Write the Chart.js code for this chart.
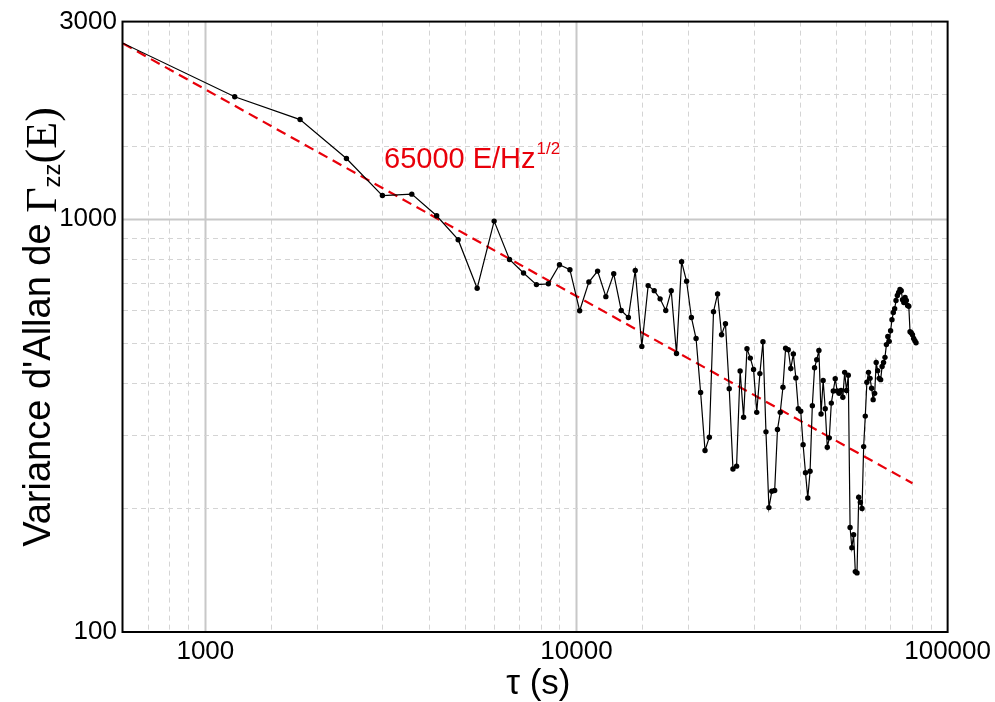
<!DOCTYPE html>
<html><head><meta charset="utf-8">
<script src="https://cdn.jsdelivr.net/npm/chart.js@4.4.1/dist/chart.umd.min.js"></script>
<style>html,body{margin:0;padding:0;background:#fff}#wrap{width:995px;height:702px;position:relative}</style>
</head><body><div id="wrap"><canvas id="c" width="995" height="702"></canvas></div>
<script>
const tau = [600,1200,1800,2400,3000,3600,4200,4800,5400,6000,
6600,7200,7800,8400,9000,9600,10200,10800,11400,12000,
12600,13200,13800,14400,15000,15600,16200,16800,17400,18000,
18600,19200,19800,20400,21000,21600,22200,22800,23400,24000,
24600,25200,25800,26400,27000,27600,28200,28800,29400,30000,
30600,31200,31800,32400,33000,33600,34200,34800,35400,36000,
36600,37200,37800,38400,39000,39600,40200,40800,41400,42000,
42600,43200,43800,44400,45000,45600,46200,46800,47400,48000,
48600,49200,49800,50400,51000,51600,52200,52800,53400,54000,
54600,55200,55800,56400,57000,57600,58200,58800,59400,60000,
60600,61200,61800,62400,63000,63600,64200,64800,65400,66000,
66600,67200,67800,68400,69000,69600,70200,70800,71400,72000,
72600,73200,73800,74400,75000,75600,76200,76800,77400,78000,
78600,79200,79800,80400,81000,81600,82200];
const allanVar = [2660,1974,1738,1399,1138,1147,1017,890,679,987,
797,739,693,696,774,753,599,703,747,648,
736,600,577,750,491,689,670,640,600,670,
472,787,706,577,513,380,275,296,596,658,
524,557,388,248,252,428,331,485,460,432,
340,422,504,305,200,219,220,309,340,391,
486,482,434,471,412,347,342,284,243,211,
245,353,436,456,480,337,406,347,280,295,
358,383,410,383,378,384,370,425,384,418,
179,160,172,140,139,212,206,199,281,333,
402,425,411,389,365,378,449,429,411,408,
439,449,462,496,519,505,536,570,593,606,
634,652,663,674,670,637,627,645,634,617,
614,533,530,524,513,507,501];
const fitTau = [600, 80400];
const fitVal = [2655, 229];
const xTickLabels = [1000, 10000, 100000];
const yTickLabels = [100, 1000, 3000];
const fitText = '65000 E/Hz';
const fitTextSup = '1/2';
const xTitle = 'τ (s)';
const yTitleMain = "Variance d'Allan de ";
const yTitleSym = 'Γ';
const yTitleSub = 'zz';
const yTitleArg = '(E)';

const SANS = '"Liberation Sans", Arial, sans-serif';
const SERIF = '"Liberation Serif", "Times New Roman", serif';
const near = (v, arr) => arr.some(a => Math.abs(v - a) / a < 1e-6);
const isPow10 = v => Math.abs(Math.log10(v) - Math.round(Math.log10(v))) < 1e-9;

const gridPlugin = {
  id: 'customGrid',
  beforeDatasetsDraw(chart) {
    const {ctx, chartArea: a, scales: {x, y}} = chart;
    ctx.save();
    const line = (x1, y1, x2, y2, major) => {
      ctx.beginPath();
      if (major) { ctx.strokeStyle = '#c8c8c8'; ctx.lineWidth = 2; ctx.setLineDash([]); }
      else { ctx.strokeStyle = '#d4d4d4'; ctx.lineWidth = 1; ctx.setLineDash([5, 4]); }
      ctx.moveTo(x1, y1); ctx.lineTo(x2, y2); ctx.stroke();
    };
    x.ticks.forEach(t => {
      const v = t.value;
      if (v <= x.min * 1.0001 || v >= x.max * 0.9999) return;
      const p = Math.round(x.getPixelForValue(v)) + 0.5;
      line(p, a.top, p, a.bottom, isPow10(v));
    });
    y.ticks.forEach(t => {
      const v = t.value;
      if (v <= y.min * 1.0001 || v >= y.max * 0.9999) return;
      const p = Math.round(y.getPixelForValue(v)) + 0.5;
      line(a.left, p, a.right, p, isPow10(v));
    });
    ctx.restore();
  },
  afterDatasetsDraw(chart) {
    const {ctx, chartArea: a} = chart;
    ctx.save();
    ctx.strokeStyle = '#000'; ctx.lineWidth = 2; ctx.setLineDash([]);
    ctx.strokeRect(a.left - 0.5, a.top, a.right - a.left + 0.5, a.bottom - a.top);
    // fit annotation
    ctx.fillStyle = '#e8000a';
    ctx.textBaseline = 'alphabetic';
    ctx.font = '29px ' + SANS;
    const tx = 384, ty = 168;
    ctx.fillText(fitText, tx, ty);
    const w = ctx.measureText(fitText).width;
    ctx.font = '17px ' + SANS;
    ctx.fillText(fitTextSup, tx + w + 1, ty - 14);
    // x title
    ctx.fillStyle = '#000';
    ctx.font = '35px ' + SANS;
    ctx.textAlign = 'center';
    ctx.fillText(xTitle, (a.left + a.right) / 2 + 3, 694);
    // y title (rotated)
    ctx.textAlign = 'left';
    const parts = [
      {t: yTitleMain, f: '38px ' + SANS, dy: 0},
      {t: yTitleSym, f: '44px ' + SERIF, dy: 6},
      {t: yTitleSub, f: '24px ' + SANS, dy: 10},
      {t: yTitleArg, f: '44px ' + SERIF, dy: 6}
    ];
    let total = 0;
    parts.forEach(p => { ctx.font = p.f; p.w = ctx.measureText(p.t).width; total += p.w; });
    ctx.translate(50, 327);
    ctx.rotate(-Math.PI / 2);
    let cx = -total / 2;
    parts.forEach(p => { ctx.font = p.f; ctx.fillText(p.t, cx, p.dy); cx += p.w; });
    ctx.restore();
  }
};

const seriesPoints = tau.map((t, i) => ({x: t, y: allanVar[i]}));
const fitPoints = fitTau.map((t, i) => ({x: t, y: fitVal[i]}));

new Chart(document.getElementById('c'), {
  type: 'line',
  data: {
    datasets: [
      {
        label: 'fit',
        data: fitPoints,
        borderColor: '#e8000a',
        borderWidth: 2.2,
        borderDash: [10, 6],
        pointRadius: 0,
        fill: false,
        order: 2
      },
      {
        label: 'Allan',
        data: seriesPoints,
        borderColor: '#000',
        backgroundColor: '#000',
        borderWidth: 1.2,
        pointRadius: ctx => ctx.dataIndex === 0 ? 0 : 2.7,
        pointBorderWidth: 0,
        pointBackgroundColor: '#000',
        fill: false,
        tension: 0,
        order: 1
      }
    ]
  },
  options: {
    responsive: false,
    animation: false,
    devicePixelRatio: 1,
    layout: {padding: {top: 19, right: 47, left: 0, bottom: 0}},
    plugins: {legend: {display: false}, tooltip: {enabled: false}},
    scales: {
      x: {
        type: 'logarithmic', min: 600, max: 100000,
        grid: {display: false, drawTicks: false, tickLength: 0}, border: {display: false},
        ticks: {
          autoSkip: false, maxRotation: 0, minRotation: 0, padding: 4, color: '#000',
          font: {family: SANS, size: 26},
          callback: v => near(v, xTickLabels) ? String(Math.round(v)) : ''
        },
        afterFit: s => { s.height = 70; }
      },
      y: {
        type: 'logarithmic', min: 100, max: 3000,
        grid: {display: false, drawTicks: false, tickLength: 0}, border: {display: false},
        ticks: {
          autoSkip: false, padding: 6, color: '#000',
          font: {family: SANS, size: 26},
          callback: v => near(v, yTickLabels) ? String(Math.round(v)) : ''
        },
        afterFit: s => { s.width = 123; }
      }
    }
  },
  plugins: [gridPlugin]
});
</script></body></html>
